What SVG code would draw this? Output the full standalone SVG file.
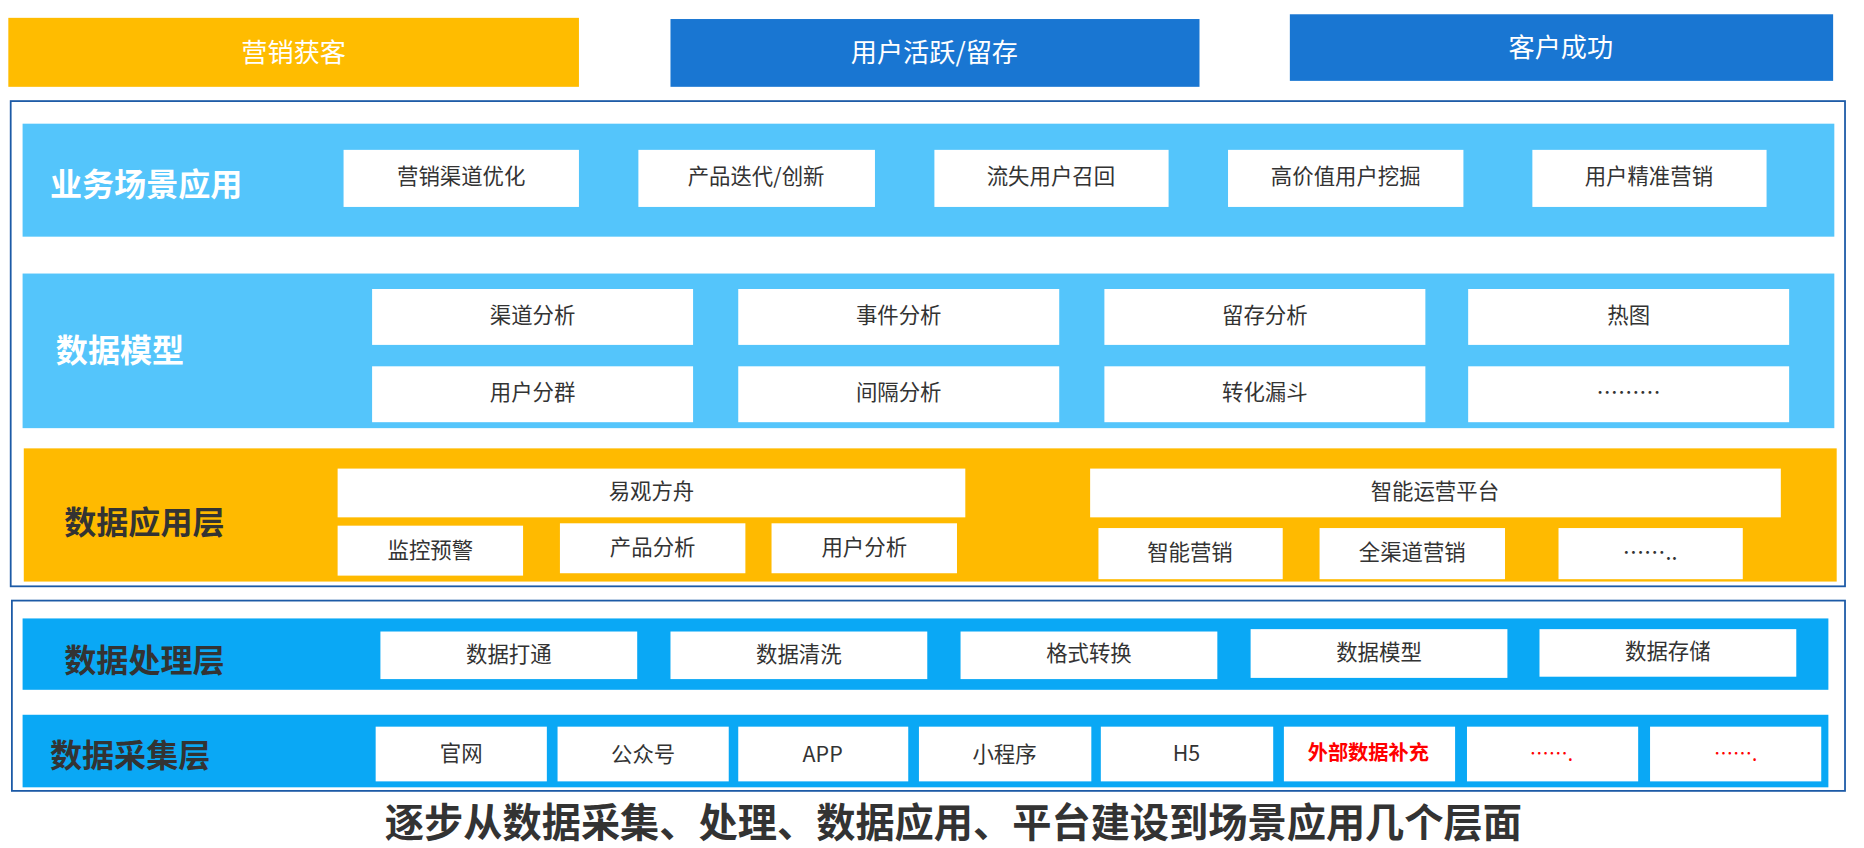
<svg xmlns="http://www.w3.org/2000/svg" width="1864" height="848" viewBox="0 0 1864 848">
<style>
text{font-family:"Noto Sans CJK SC","Liberation Sans",sans-serif;text-anchor:middle;dominant-baseline:central}
.w{fill:#fff}
.bt{fill:#333;font-size:18px}
.top{fill:#fff;font-size:22px}
.lbl{font-size:27px;font-weight:bold;text-anchor:start}
</style>
<rect width="1864" height="848" fill="#fff"/>
<g transform="scale(1.1888,1.1893)">
<g id="top">
<rect x="7" y="15" width="480" height="58" fill="#FFBC00"/><text class="top" x="247" y="43">营销获客</text>
<rect x="564" y="16" width="445" height="57" fill="#1976D2"/><text class="top" x="786" y="43">用户活跃/留存</text>
<rect x="1085" y="12" width="457" height="56" fill="#1976D2"/><text class="top" x="1313" y="39">客户成功</text>
</g>
<rect x="9" y="85" width="1543" height="408" fill="none" stroke="#1C5AA6" stroke-width="1.5"/>
<rect x="10" y="505" width="1542" height="160" fill="none" stroke="#1C5AA6" stroke-width="1.5"/>
<g id="biz">
<rect x="19" y="104" width="1524" height="95" fill="#54C5FB"/>
<text class="lbl" x="42" y="153" fill="#fff">业务场景应用</text>
<rect class="w" x="289" y="126" width="198" height="48"/><text class="bt" x="388" y="147">营销渠道优化</text>
<rect class="w" x="537" y="126" width="199" height="48"/><text class="bt" x="636" y="147">产品迭代/创新</text>
<rect class="w" x="786" y="126" width="197" height="48"/><text class="bt" x="884" y="147">流失用户召回</text>
<rect class="w" x="1033" y="126" width="198" height="48"/><text class="bt" x="1132" y="147">高价值用户挖掘</text>
<rect class="w" x="1289" y="126" width="197" height="48"/><text class="bt" x="1387" y="147">用户精准营销</text>
</g>
<g id="model">
<rect x="19" y="230" width="1524" height="130" fill="#54C5FB"/>
<text class="lbl" x="47" y="293" fill="#fff">数据模型</text>
<rect class="w" x="313" y="243" width="270" height="47"/><text class="bt" x="448" y="264">渠道分析</text>
<rect class="w" x="621" y="243" width="270" height="47"/><text class="bt" x="756" y="264">事件分析</text>
<rect class="w" x="929" y="243" width="270" height="47"/><text class="bt" x="1064" y="264">留存分析</text>
<rect class="w" x="1235" y="243" width="270" height="47"/><text class="bt" x="1370" y="264">热图</text>
<rect class="w" x="313" y="308" width="270" height="47"/><text class="bt" x="448" y="328">用户分群</text>
<rect class="w" x="621" y="308" width="270" height="47"/><text class="bt" x="756" y="328">间隔分析</text>
<rect class="w" x="929" y="308" width="270" height="47"/><text class="bt" x="1064" y="328">转化漏斗</text>
<rect class="w" x="1235" y="308" width="270" height="47"/><text class="bt" x="1370" y="328">………</text>
</g>
<g id="app">
<rect x="20" y="377" width="1525" height="112" fill="#FFBA00"/>
<text class="lbl" x="54" y="437" fill="#333">数据应用层</text>
<rect class="w" x="284" y="394" width="528" height="41"/><text class="bt" x="548" y="412">易观方舟</text>
<rect class="w" x="917" y="394" width="581" height="41"/><text class="bt" x="1207" y="412">智能运营平台</text>
<rect class="w" x="284" y="442" width="156" height="42"/><text class="bt" x="362" y="461">监控预警</text>
<rect class="w" x="471" y="440" width="156" height="42"/><text class="bt" x="549" y="459">产品分析</text>
<rect class="w" x="649" y="440" width="156" height="42"/><text class="bt" x="727" y="459">用户分析</text>
<rect class="w" x="924" y="444" width="155" height="43"/><text class="bt" x="1001" y="463">智能营销</text>
<rect class="w" x="1110" y="444" width="156" height="43"/><text class="bt" x="1188" y="463">全渠道营销</text>
<rect class="w" x="1311" y="444" width="155" height="43"/><text class="bt" x="1388" y="463">……..</text>
</g>
<g id="proc">
<rect x="19" y="520" width="1519" height="60" fill="#0AA8F5"/>
<text class="lbl" x="54" y="553" fill="#333">数据处理层</text>
<rect class="w" x="320" y="531" width="216" height="40"/><text class="bt" x="428" y="549">数据打通</text>
<rect class="w" x="564" y="531" width="216" height="40"/><text class="bt" x="672" y="549">数据清洗</text>
<rect class="w" x="808" y="531" width="216" height="40"/><text class="bt" x="916" y="548">格式转换</text>
<rect class="w" x="1052" y="529" width="216" height="41"/><text class="bt" x="1160" y="547">数据模型</text>
<rect class="w" x="1295" y="529" width="216" height="40"/><text class="bt" x="1403" y="546">数据存储</text>
</g>
<g id="collect">
<rect x="19" y="601" width="1519" height="61" fill="#0AA8F5"/>
<text class="lbl" x="42" y="633" fill="#333">数据采集层</text>
<rect class="w" x="316" y="611" width="144" height="46"/><text class="bt" x="388" y="632" font-size="16">官网</text>
<rect class="w" x="469" y="611" width="144" height="46"/><text class="bt" x="541" y="633" font-size="16">公众号</text>
<rect class="w" x="621" y="611" width="143" height="46"/><text class="bt" x="692" y="633" font-size="16">APP</text>
<rect class="w" x="773" y="611" width="145" height="46"/><text class="bt" x="845" y="633" font-size="16">小程序</text>
<rect class="w" x="926" y="611" width="145" height="46"/><text class="bt" x="998" y="632" font-size="16">H5</text>
<rect class="w" x="1080" y="611" width="144" height="46"/><text x="1151" y="632" font-size="17" font-weight="bold" fill="#F00">外部数据补充</text>
<rect class="w" x="1234" y="611" width="144" height="46"/><text x="1305" y="633" font-size="16" fill="#F00">…….</text>
<rect class="w" x="1388" y="611" width="144" height="46"/><text x="1460" y="633" font-size="16" fill="#F00">…….</text>
</g>
<text x="802" y="689" font-size="33" font-weight="bold" fill="#333">逐步从数据采集、处理、数据应用、平台建设到场景应用几个层面</text>
</g>
</svg>
